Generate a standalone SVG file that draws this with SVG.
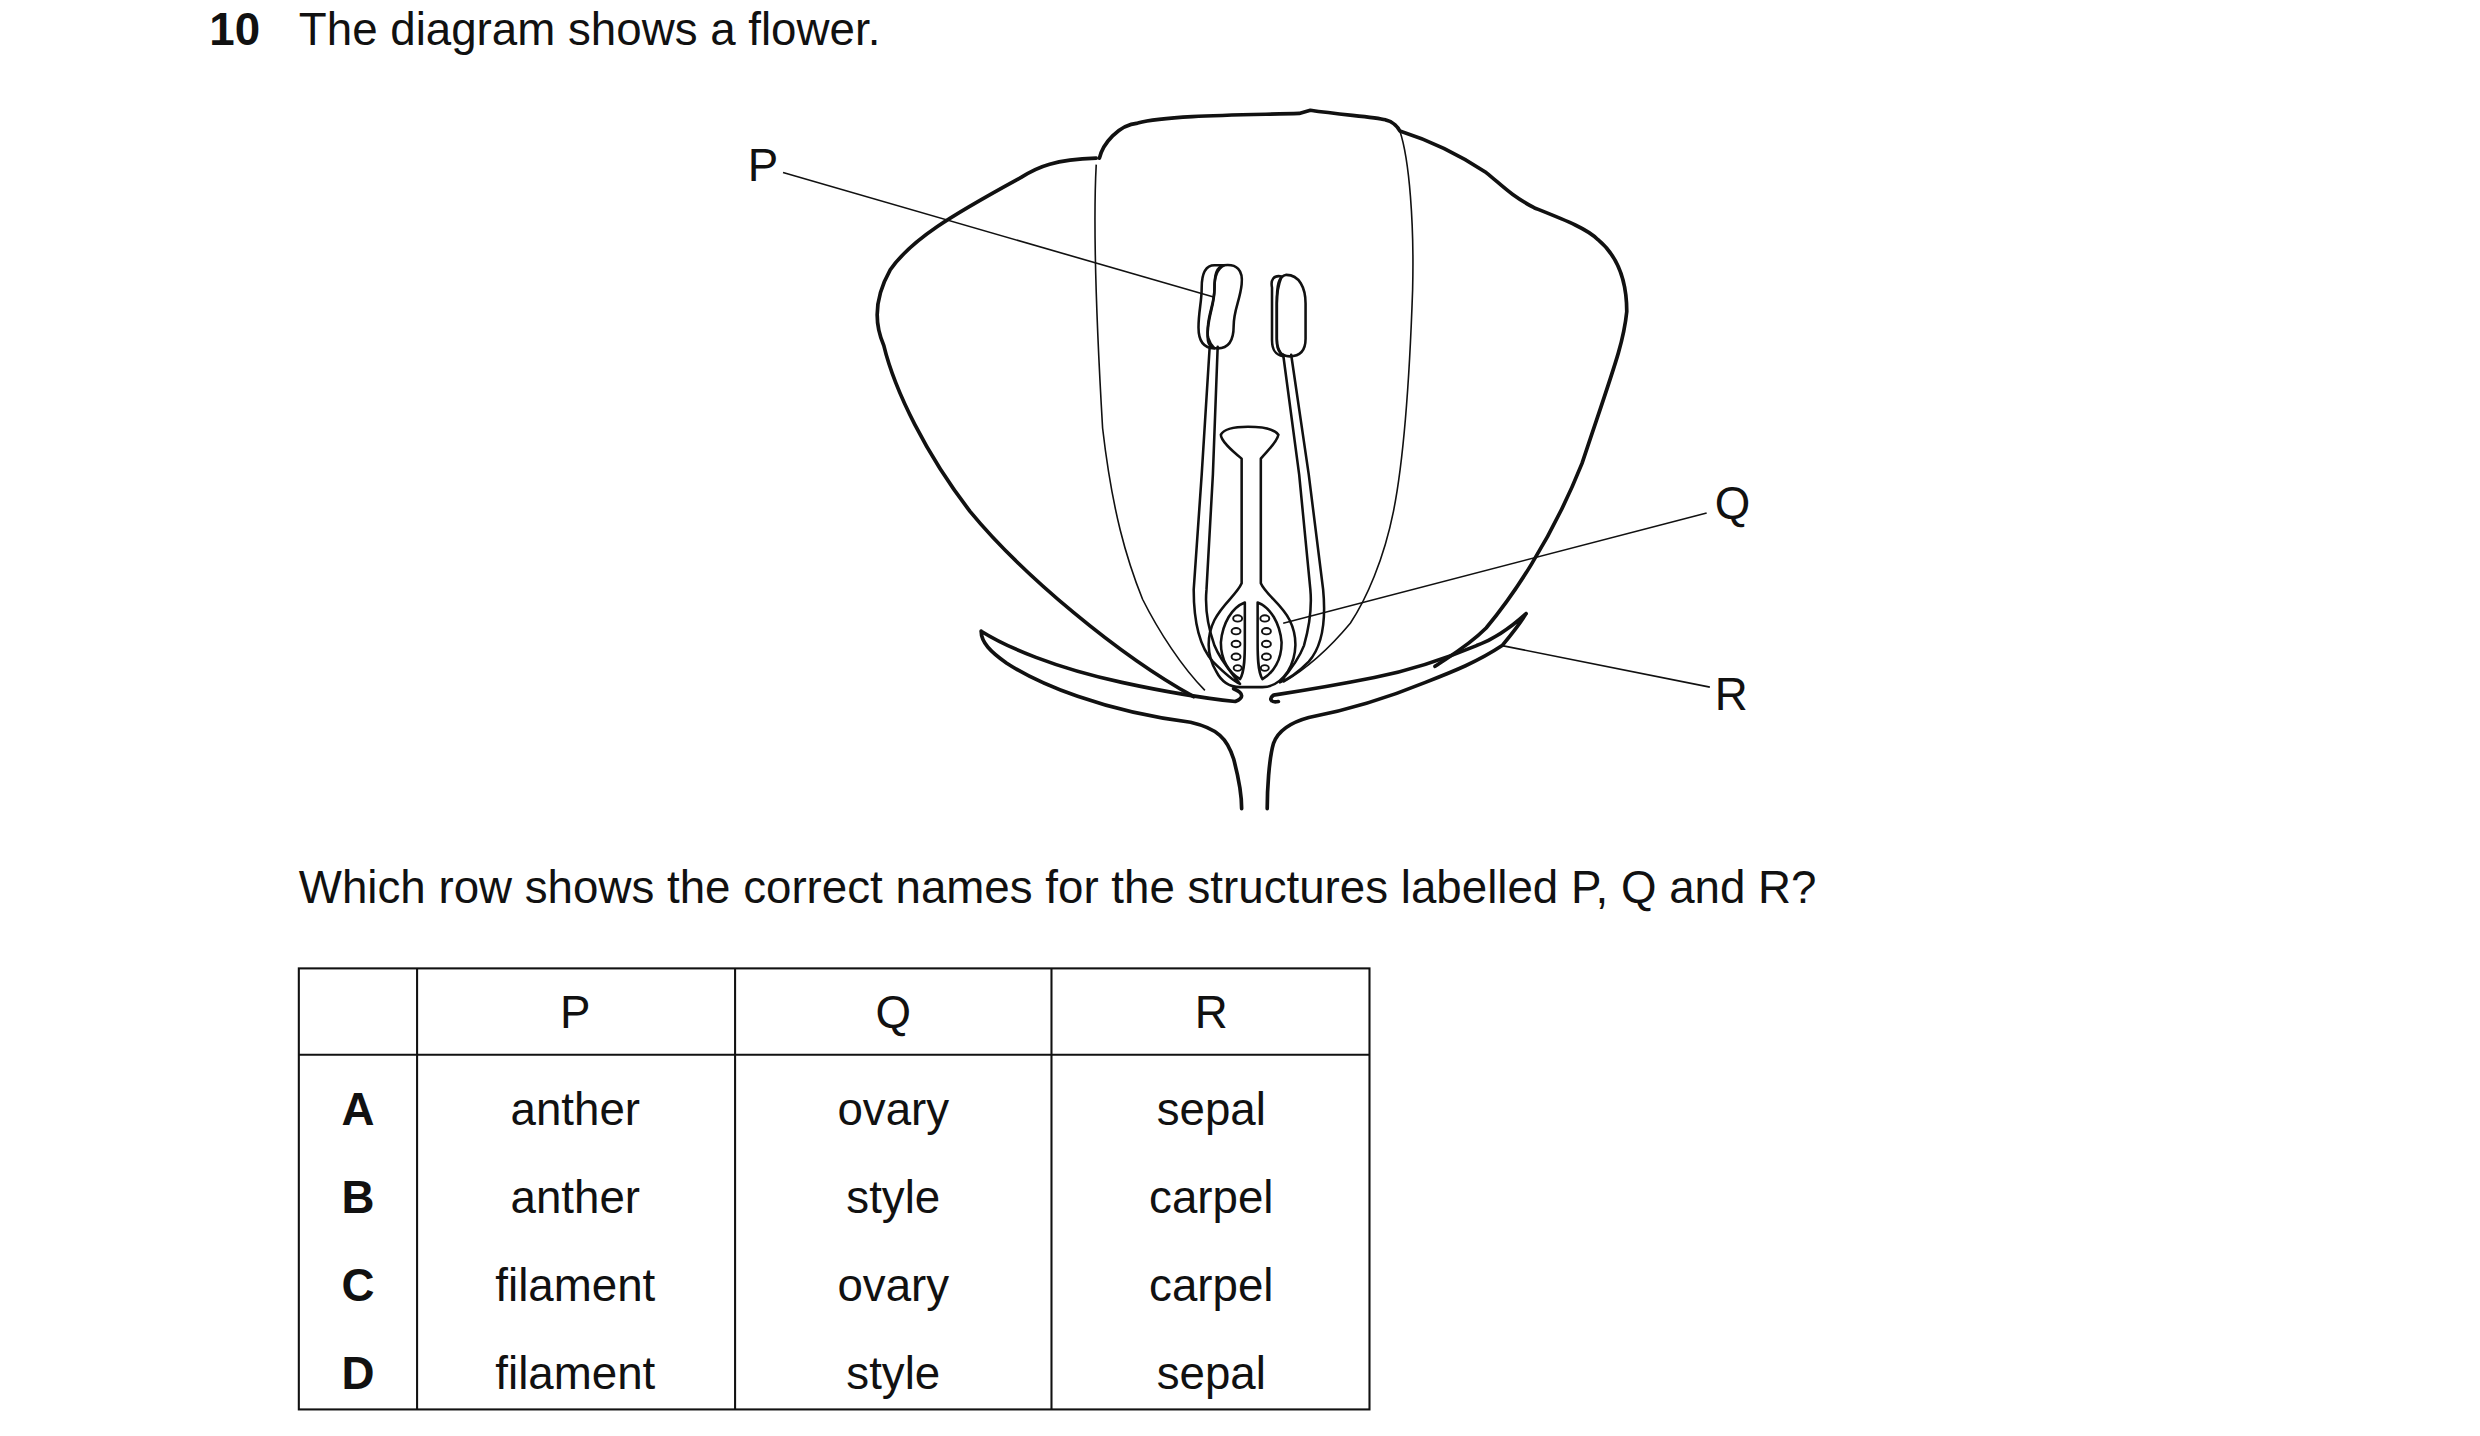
<svg xmlns="http://www.w3.org/2000/svg" width="2480" height="1436" viewBox="0 0 2480 1436">
<defs>
<pattern id="dots" width="3.4" height="3.4" patternUnits="userSpaceOnUse"><circle cx="1.7" cy="1.7" r="0.6" fill="#222"/></pattern>
<style>
.t{font-family:"Liberation Sans",Arial,sans-serif;font-size:28.6px;fill:#111}
.b{font-weight:bold}
.c{text-anchor:middle}
.k{fill:none;stroke:#111;stroke-width:2.3;stroke-linecap:round;stroke-linejoin:round}
.m{fill:none;stroke:#111;stroke-width:1.6;stroke-linecap:round;stroke-linejoin:round}
.n{fill:none;stroke:#111;stroke-width:1}
.g{fill:none;stroke:#111;stroke-width:1.2}
</style>
</defs>
<rect width="2480" height="1436" fill="#fff"/>
<g transform="scale(1.598)">
<g id="title"><text class="t b" x="131" y="28">10</text><text class="t" x="187" y="28">The diagram shows a flower.</text></g>
<g id="petals">
<path class="k" d="M747,436 C700,410 640,360 607,320 C580,285 560,245 553,216 C546,200 548,185 557,169 C570,150 595,135 639,111 C650,104 660,100 686,99"/>
<path class="k" d="M688,99 C690,90 700,78 712,77 C730,72 780,72 813,71 L820,69 C840,72 860,73 867,75 C872,76 875,80 876,82 C895,88 915,98 930,108 C940,116 945,122 960,130 C980,138 993,143 1000,150 C1012,160 1018,175 1018,195 C1016,215 1010,230 990,290 C970,340 945,375 930,393 C918,405 905,412 898,417"/>
<path class="n" d="M686,103 C684,140 686,200 690,268 C696,320 705,350 715,375 C725,395 740,418 754,432"/>
<path class="n" d="M876,82 C882,100 885,140 884,181 C882,240 878,290 872,320 C866,350 855,375 845,390 C830,408 815,420 803,427"/>
</g>
<g id="sepals">
<path class="k" d="M614,395 C630,405 660,418 702,427 C725,432 745,436 773,439 C778,437 779,434 772,431 M614,395 C614,402 620,408 630,415 C650,428 690,445 745,452 C762,456 768,462 772,475 C776,490 777,500 777,506"/>
<path class="k" d="M955,384 C945,393 935,400 924,404 C900,414 880,420 860,424 C830,430 810,433 797,435 C794,437 795,440 800,439 M955,384 C950,392 945,398 940,404 C925,414 910,420 892,427 C870,436 845,444 819,449 C808,452 800,457 797,465 C794,475 793,495 793,506"/>
</g>
<g id="stamens">
<path class="m" d="M757,217 L752,297 L747,369 C747,390 751,405 759,414 C766,421 772,426 776,428 C770,420 764,414 760,404 C755,390 754,380 755,369 L759,297 L762,217"/>
<path class="m" d="M808,222 L819,297 L828,369 C830,390 827,405 819,414 C812,421 806,425 801,427 C807,420 813,412 816,404 C820,390 821,380 820,369 L813,297 L803,222"/>
<path class="m" d="M766,166 C774,165 778,169 777,178 C776,188 772,194 772,204 C772,213 769,218 762,218 C756,218 755,214 756,205 C757,195 760,190 760,181 C760,172 761,167 766,166 Z" fill="url(#dots)"/>
<path class="m" d="M760,166 C754,166 752,172 752,180 C752,189 750,195 750,205 C750,213 753,218 760,218 C756,214 755,210 756,203 C757,194 760,189 760,180 C760,173 762,168 766,166 Z" fill="url(#dots)"/>
<path class="m" d="M805,172 C813,172 817,180 817,190 L817,212 C817,220 813,223 807,223 C801,223 799,219 799,213 L799,190 C799,178 800,173 805,172 Z" fill="url(#dots)"/>
<path class="m" d="M796,180 C795,175 797,172 802,173 C800,178 799,184 799,190 L799,212 C799,218 801,221 803,223 C798,222 796,219 796,213 Z" fill="url(#dots)"/>
</g>
<g id="pistil">
<path class="m" d="M777,287 C771,282 764,276 764,272 C766,268 774,267 781,267 C790,267 797,268 800,272 C799,277 793,282 789,287 L789,365 C792,372 802,378 807,388 C812,398 812,410 806,420 C802,426 797,430 790,430 L776,430 C769,430 764,426 761,420 C755,410 755,398 760,388 C765,378 774,372 777,365 Z"/>
<path class="m" d="M779,377 C771,380 765,390 764,402 C764,413 769,421 776,425 C779,420 779,410 779,402 Z"/>
<path class="m" d="M787,377 C795,380 801,390 802,402 C802,413 797,421 790,425 C787,420 787,410 787,402 Z"/>
<g class="g"><ellipse cx="774.5" cy="387" rx="2.8" ry="2"/><ellipse cx="773.5" cy="395" rx="2.8" ry="2"/><ellipse cx="773.5" cy="403" rx="2.8" ry="2"/><ellipse cx="773.5" cy="411" rx="2.8" ry="2"/><ellipse cx="774.5" cy="418" rx="2.5" ry="1.8"/><ellipse cx="791.5" cy="387" rx="2.8" ry="2"/><ellipse cx="792.5" cy="395" rx="2.8" ry="2"/><ellipse cx="792.5" cy="403" rx="2.8" ry="2"/><ellipse cx="792.5" cy="411" rx="2.8" ry="2"/><ellipse cx="791.5" cy="418" rx="2.5" ry="1.8"/></g>
</g>
<g id="connectors">
<line class="n" x1="490" y1="108" x2="760" y2="186"/>
<line class="n" x1="1068" y1="321" x2="803" y2="390"/>
<line class="n" x1="1070" y1="430" x2="940" y2="404"/>
</g>
<g id="labels">
<text class="t" x="468" y="113">P</text>
<text class="t" x="1073" y="325">Q</text>
<text class="t" x="1073" y="444">R</text>
</g>
<g id="question"><text class="t" x="187" y="565">Which row shows the correct names for the structures labelled P, Q and R?</text></g>
<g id="table">
<rect x="187" y="606" width="670" height="276" fill="none" stroke="#111" stroke-width="1.3"/>
<line x1="187" y1="660" x2="857" y2="660" stroke="#111" stroke-width="1.3"/>
<line x1="261" y1="606" x2="261" y2="882" stroke="#111" stroke-width="1.3"/>
<line x1="460" y1="606" x2="460" y2="882" stroke="#111" stroke-width="1.3"/>
<line x1="658" y1="606" x2="658" y2="882" stroke="#111" stroke-width="1.3"/>
<text class="t c" x="360" y="643">P</text><text class="t c" x="559" y="643">Q</text><text class="t c" x="758" y="643">R</text>
<text class="t b c" x="224" y="704">A</text><text class="t c" x="360" y="704">anther</text><text class="t c" x="559" y="704">ovary</text><text class="t c" x="758" y="704">sepal</text>
<text class="t b c" x="224" y="759">B</text><text class="t c" x="360" y="759">anther</text><text class="t c" x="559" y="759">style</text><text class="t c" x="758" y="759">carpel</text>
<text class="t b c" x="224" y="814">C</text><text class="t c" x="360" y="814">filament</text><text class="t c" x="559" y="814">ovary</text><text class="t c" x="758" y="814">carpel</text>
<text class="t b c" x="224" y="869">D</text><text class="t c" x="360" y="869">filament</text><text class="t c" x="559" y="869">style</text><text class="t c" x="758" y="869">sepal</text>
</g>
</g>
</svg>
